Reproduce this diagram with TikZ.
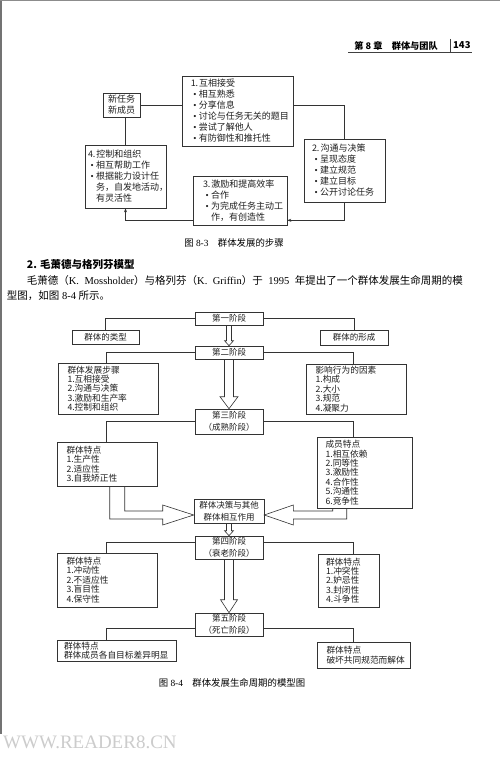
\documentclass[tikz,border=0pt]{standalone}
\usepackage{fontspec}
\setmainfont{Liberation Serif}
\newfontfamily\cjk{Noto Sans CJK SC}
\usetikzlibrary{arrows.meta,calc}
\newcommand{\bul}{\hspace*{2.5pt}{\rmfamily\textbullet}\kern2.5pt}

\begin{document}
\begin{tikzpicture}[x=1pt,y=-1pt,
  box/.style={draw=black!80, line width=0.6pt, inner sep=0pt, align=center, text=black!88},
  stage/.style={box, minimum width=68pt, font=\cjk\fontsize{8.5}{12}\selectfont},
  list/.style={box, align=left, inner xsep=9.5pt, font=\cjk\fontsize{8.7}{9.4}\selectfont},
  stepbox/.style={box, align=left, font=\cjk\fontsize{9}{11}\selectfont},
  link/.style={line width=0.6pt, draw=black!80},
  hollow/.style={line width=0.6pt, draw=black!80, line join=miter},
  tip/.style={-{Stealth[length=4pt,width=3pt]}}]
\useasboundingbox (0,0) rectangle (500,762);
\fill[white] (0,0) rectangle (500,762);
\draw[black!55, line width=2pt] (1,0) -- (1,734);
\draw[black!45, line width=1.5pt] (0,0.75) -- (500,0.75);

% page head
\node[anchor=east, inner sep=0pt, font=\cjk\bfseries\fontsize{9.2}{11}\selectfont] (chap) at (438,45.5) {第 8 章\hspace{1em}群体与团队};
\node[anchor=west, inner sep=0pt, font=\cjk\bfseries\fontsize{9.5}{11}\selectfont] (page) at (453,45.5) {143};
\draw[black!75, line width=0.8pt] (348,52) -- (472,52);
\draw[black!75, line width=0.8pt] (450,39) -- (450,52);

% figure 8-3
\node[stepbox, align=center, minimum width=37pt, minimum height=24pt] (newt) at (121.5,105) {新任务\\新成员};
\node[stepbox, text width=93.5pt, inner xsep=8.75pt, minimum height=70pt] (acc) at (237.5,111) {1.\kern1pt 互相接受\\\bul 相互熟悉\\\bul 分享信息\\\bul 讨论与任务无关的题目\\\bul 尝试了解他人\\\bul 有防御性和推托性};
\node[stepbox, text width=65pt, inner xsep=8pt, minimum height=63pt] (comm) at (344.5,170.5) {2.\kern1pt 沟通与决策\\\bul 呈现态度\\\bul 建立规范\\\bul 建立目标\\\bul 公开讨论任务};
\node[stepbox, text width=74pt, inner xsep=10pt, minimum height=49pt] (motiv) at (240,200.5) {3.\kern1pt 激励和提高效率\\\bul 合作\\\bul 为完成任务主动工\\\phantom{\bul}作，有创造性};
\node[stepbox, text width=75pt, inner xsep=3pt, minimum height=63pt] (ctrl) at (125.5,176.5) {4.\kern1pt 控制和组织\\\bul 相互帮助工作\\\bul 根据能力设计任\\\phantom{\bul}务，自发地活动，\\\phantom{\bul}有灵活性};
\draw[link] (newt.east) -- (newt.east -| acc.west);
\draw[link] (acc.east |- newt.east) -| (comm.north);
\draw[link, tip] (comm.south) |- ([yshift=5pt]motiv.south east);
\draw[link, tip] ([yshift=5pt]motiv.south west) -| (ctrl.south);
\draw[link] (ctrl.north) -- (ctrl.north |- newt.south);
\node[font=\fontsize{9.4}{11}\selectfont, inner sep=0pt] (cap3) at (234,243) {{\cjk 图} 8-3\hspace{1em}{\cjk 群体发展的步骤}};

% text
\node[anchor=west, inner sep=0pt, font=\cjk\bfseries\fontsize{10.5}{12}\selectfont] (sec) at (26.7,265) {2. 毛萧德与格列芬模型};
\node[anchor=west, inner sep=0pt, font=\fontsize{10.5}{12}\selectfont] (para1) at (26.7,281) {\makebox[436pt][s]{{\cjk 毛萧德（}K. Mossholder{\cjk ）与格列芬（}K. Griffin{\cjk ）于} 1995 {\cjk 年提出了一个群体发展生命周期的模}}};
\node[anchor=west, inner sep=0pt, font=\fontsize{10.5}{12}\selectfont] (para2) at (6.7,296) {{\cjk 型图，如图} 8-4 {\cjk 所示。}};

% figure 8-4
\coordinate (lx) at (106,0);
\coordinate (rx) at (353.5,0);
\node[stage, minimum height=13pt] (s1) at (229,318.5) {第一阶段};
\node[stage, minimum width=67pt, minimum height=14pt] (gtype) at (105.5,337) {群体的类型};
\node[stage, minimum height=15pt] (gform) at (354,337.5) {群体的形成};
\node[stage, minimum height=13pt] (s2) at (229,352.5) {第二阶段};
\node[list, text width=81pt, minimum height=51pt] (steps) at (108,388.5) {群体发展步骤\\1.互相接受\\2.沟通与决策\\3.激励和生产率\\4.控制和组织};
\node[list, text width=81pt, minimum height=50pt] (factor) at (356,389) {影响行为的因素\\1.构成\\2.大小\\3.规范\\4.凝聚力};
\node[stage, minimum height=25pt] (s3) at (229,421.5) {第三阶段\\（成熟阶段）};
\node[list, text width=81pt, minimum height=44pt] (gfeat3) at (107,464) {群体特点\\1.生产性\\2.适应性\\3.自我矫正性};
\node[list, inner xsep=8.5pt, text width=78pt, minimum height=71pt] (mem) at (364.5,472.5) {成员特点\\1.相互依赖\\2.同等性\\3.激励性\\4.合作性\\5.沟通性\\6.竞争性};
\node[stage, minimum width=70pt, minimum height=24pt] (mid) at (229,511) {群体决策与其他\\群体相互作用};
\node[stage, minimum height=23pt] (s4) at (229,547.5) {第四阶段\\（衰老阶段）};
\node[list, text width=81pt, minimum height=54pt] (gfeat4) at (107,580) {群体特点\\1.冲动性\\2.不适应性\\3.盲目性\\4.保守性};
\node[list, inner xsep=8pt, text width=45pt, minimum height=53pt] (gfeat4r) at (348.5,580.5) {群体特点\\1.冲突性\\2.妒忌性\\3.封闭性\\4.斗争性};
\node[stage, minimum height=23pt] (s5) at (229,624.5) {第五阶段\\（死亡阶段）};
\node[list, inner xsep=7pt, text width=105pt, minimum height=21pt] (end1) at (116.5,650.5) {群体特点\\群体成员各自目标差异明显};
\node[list, text width=74pt, minimum height=26pt] (end2) at (363.5,655) {群体特点\\破坏共同规范而解体};

\draw[link] (s1.west) -| (gtype.north);
\draw[link] (s1.east) -| (gform.north);
\draw[link] (s2.west) -| (lx |- steps.north);
\draw[link] (s2.east) -| (rx |- factor.north);
\draw[link] (s3.west) -| (lx |- gfeat3.north);
\draw[link] (s3.east) -| (rx |- mem.north);
\draw[link] ([yshift=5.5pt]s4.west) -| (lx |- gfeat4.north);
\draw[link] ([yshift=5.5pt]s4.east) -| (rx |- gfeat4r.north);
\draw[link] ([yshift=-4pt]s5.west) -| (lx |- end1.north);
\draw[link] ([yshift=-4pt]s5.east) -| (rx |- end2.north);

% hollow arrows
\draw[hollow] ([xshift=-2.5pt]s1.south) -- ([xshift=-2.5pt,yshift=5pt]s2.north) -- ([xshift=-4.5pt,yshift=5pt]s2.north) -- (s2.north) -- ([xshift=4.5pt,yshift=5pt]s2.north) -- ([xshift=2.5pt,yshift=5pt]s2.north) -- ([xshift=2.5pt]s1.south);
\draw[hollow] ([xshift=-4.5pt]s2.south) -- ([xshift=-4.5pt,yshift=12pt]s3.north) -- ([xshift=-9pt,yshift=12pt]s3.north) -- (s3.north) -- ([xshift=9pt,yshift=12pt]s3.north) -- ([xshift=4.5pt,yshift=12pt]s3.north) -- ([xshift=4.5pt]s2.south);
\draw[hollow] ($(gfeat3.south west)+(68,0)$) |- ($(mid.west)+(-31,0)$) -- ++(0,-6) -- ($(mid.west)+(0,4)$) -- ++(-31,10) -- ++(0,-6) -| ($(gfeat3.south west)+(53,0)$);
\draw[hollow] ($(mem.south west)+(16,0)$) |- ($(mid.east)+(29,0)$) -- ++(0,-6) -- ($(mid.east)+(0,4)$) -- ++(29,10) -- ++(0,-6) -| ($(mem.south west)+(30,0)$);
\draw[hollow] ([xshift=-2.5pt]mid.south) -- ([xshift=-2.5pt,yshift=5pt]s4.north) -- ([xshift=-4.5pt,yshift=5pt]s4.north) -- (s4.north) -- ([xshift=4.5pt,yshift=5pt]s4.north) -- ([xshift=2.5pt,yshift=5pt]s4.north) -- ([xshift=2.5pt]mid.south);
\draw[hollow] ([xshift=-4.5pt]s4.south) -- ([xshift=-4.5pt,yshift=13pt]s5.north) -- ([xshift=-8.5pt,yshift=13pt]s5.north) -- (s5.north) -- ([xshift=8.5pt,yshift=13pt]s5.north) -- ([xshift=4.5pt,yshift=13pt]s5.north) -- ([xshift=4.5pt]s4.south);

\node[font=\fontsize{9.4}{11}\selectfont, inner sep=0pt] (cap4) at (232,683) {{\cjk 图} 8-4\hspace{1em}{\cjk 群体发展生命周期的模型图}};

% watermark
\node[anchor=west, inner sep=0pt, text=black!20, font=\fontsize{19}{20}\selectfont] (wmark) at (3,742) {WWW.READER8.CN};
\end{tikzpicture}
\end{document}
